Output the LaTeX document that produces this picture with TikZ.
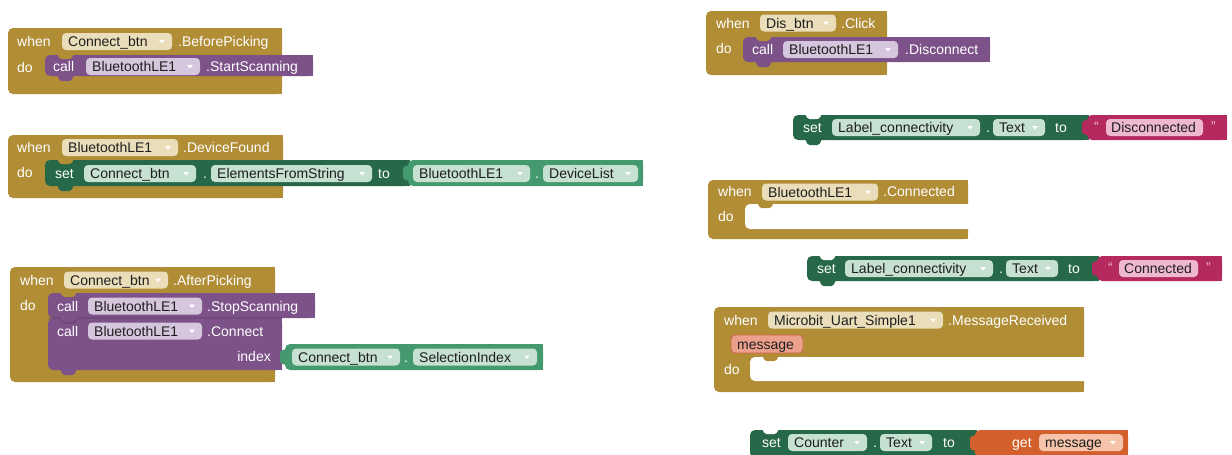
\documentclass[tikz,border=0pt]{standalone}
\usepackage{fontspec}
\setmainfont{Liberation Sans}
\definecolor{evtc}{RGB}{177,141,54}
\definecolor{evtf}{RGB}{234,222,186}
\definecolor{procc}{RGB}{124,82,136}
\definecolor{procf}{RGB}{214,198,221}
\definecolor{setc}{RGB}{38,104,72}
\definecolor{getc}{RGB}{68,153,110}
\definecolor{gfld}{RGB}{198,224,209}
\definecolor{txtc}{RGB}{180,42,94}
\definecolor{txtf}{RGB}{238,185,206}
\definecolor{orgc}{RGB}{211,95,44}
\definecolor{orgf}{RGB}{245,196,170}
\definecolor{parf}{RGB}{236,160,140}
\definecolor{pard}{RGB}{205,95,70}
\definecolor{fdtxt}{RGB}{30,30,30}
\tikzset{
  kw/.style={text=white, inner sep=0pt, anchor=west, text height=10pt, text depth=0pt, font=\fontsize{14}{16}\selectfont},
  ft/.style={text=fdtxt, inner sep=0pt, anchor=west, text height=10pt, text depth=0pt, font=\fontsize{14}{16}\selectfont},
}
% field with dropdown arrow: name, fill, x1, x2, yc, text
\newcommand\fld[6]{%
  \fill[#2, rounded corners=4pt] ({#3},{#5-8.5}) rectangle ({#4},{#5+8.5});
  \node[ft] (#1) at ({#3+6},{#5}) {#6};
  \fill[white] ({#4-13},{#5-1.5}) -- ({#4-7},{#5-1.5}) -- ({#4-10},{#5+2}) -- cycle;}
% field without arrow
\newcommand\fldn[6]{%
  \fill[#2, rounded corners=4pt] ({#3},{#5-8.5}) rectangle ({#4},{#5+8.5});
  \node[ft] (#1) at ({#3+5},{#5}) {#6};}
\newcommand\kw[4]{\node[kw] (#1) at (#2,#3) {#4};}
% block body: colour, x1, y1, x2, y2
\newcommand\body[5]{%
  \fill[#1, rounded corners=5pt] ({#2},{#3}) rectangle ({#4},{#5});
  \fill[#1] ({#4-7},{#3}) rectangle ({#4},{#5});}
% bottom tab: colour, x1, y2
\newcommand\btab[3]{%
  \fill[#1, rounded corners=1.5pt] ({#2+12},{#3-1}) -- ({#2+15},{#3+5}) -- ({#2+26},{#3+5}) -- ({#2+29},{#3-1}) -- cycle;}
% top notch: colour, x1, y1
\newcommand\tnotch[3]{%
  \fill[#1, rounded corners=1.5pt] ({#2+12},{#3-1}) -- ({#2+15},{#3+4}) -- ({#2+26},{#3+4}) -- ({#2+29},{#3-1}) -- cycle;}
% value tab: colour, x, yc
\newcommand\vtab[3]{%
  \fill[#1, rounded corners=1.5pt] ({#2+1},{#3-8}) -- ({#2-5},{#3-6}) -- ({#2-5},{#3+6}) -- ({#2+1},{#3+8}) -- cycle;}
\begin{document}
\begin{tikzpicture}[x=1pt,y=-1pt]
\useasboundingbox (0,0) rectangle (1232,455);
\clip (0,0) rectangle (1232,455);

% ===== Block A: when Connect_btn.BeforePicking
\body{evtc}{8}{28}{282}{94}
\body{procc}{45}{55}{313}{76}
\btab{procc}{45}{76}
\tnotch{evtc}{45}{55}
\kw{aWhen}{17}{41}{when}
\fld{aF1}{evtf}{62}{172}{41.5}{Connect\_btn}
\kw{aEv}{178}{41}{.BeforePicking}
\kw{aDo}{17}{67}{do}
\kw{aCall}{53}{66}{call}
\fld{aF2}{procf}{86}{200}{66.5}{BluetoothLE1}
\kw{aM}{206}{66}{.StartScanning}

% ===== Block B: when BluetoothLE1.DeviceFound
\body{evtc}{8}{135}{283}{198}
\body{setc}{45}{160}{410}{186}
\btab{setc}{45}{186}
\tnotch{evtc}{45}{160}
\body{getc}{408}{160}{643}{186}
\vtab{getc}{408}{173}
\kw{bWhen}{17}{147}{when}
\fld{bF1}{evtf}{62}{178}{147.5}{BluetoothLE1}
\kw{bEv}{183}{147}{.DeviceFound}
\kw{bDo}{17}{172}{do}
\kw{bSet}{55}{173}{set}
\fld{bF2}{gfld}{84}{196}{173.5}{Connect\_btn}
\kw{bDot1}{203}{173}{.}
\fld{bF3}{gfld}{211}{372}{173.5}{ElementsFromString}
\kw{bTo}{378}{173}{to}
\fld{bF4}{gfld}{413}{530}{173.5}{BluetoothLE1}
\kw{bDot2}{535}{173}{.}
\fld{bF5}{gfld}{543}{638}{173.5}{DeviceList}

% ===== Block C: when Connect_btn.AfterPicking
\body{evtc}{10}{267}{275}{382}
\body{procc}{48}{318}{282}{370}
\btab{procc}{48}{370}
\body{procc}{48}{293}{315}{318}
\tnotch{evtc}{48}{293}
\draw[procc!75!black, line width=0.6pt] (48.5,318) -- (60,318) -- (63,323) -- (74,323) -- (77,318) -- (282,318);
\body{getc}{285}{344}{543}{370}
\vtab{getc}{285}{357}
\kw{cWhen}{20}{280}{when}
\fld{cF1}{evtf}{64}{168}{280}{Connect\_btn}
\kw{cEv}{173}{280}{.AfterPicking}
\kw{cDo}{20}{305}{do}
\kw{cCall1}{57}{306}{call}
\fld{cF2}{procf}{88}{202}{306}{BluetoothLE1}
\kw{cM1}{207}{306}{.StopScanning}
\kw{cCall2}{57}{331}{call}
\fld{cF3}{procf}{88}{202}{331}{BluetoothLE1}
\kw{cM2}{207}{331}{.Connect}
\node[kw, anchor=east] (cIdx) at (271,356) {index};
\fld{cF4}{gfld}{292}{400}{357}{Connect\_btn}
\kw{cDot}{404}{357}{.}
\fld{cF5}{gfld}{413}{537}{357}{SelectionIndex}

% ===== Block D: when Dis_btn.Click
\body{evtc}{706}{11}{887}{75}
\body{procc}{743}{37}{990}{62}
\btab{procc}{743}{62}
\tnotch{evtc}{743}{37}
\kw{dWhen}{716}{23}{when}
\fld{dF1}{evtf}{760}{836}{23}{Dis\_btn}
\kw{dEv}{841}{23}{.Click}
\kw{dDo}{716}{48}{do}
\kw{dCall}{752}{49}{call}
\fld{dF2}{procf}{783}{898}{49.5}{BluetoothLE1}
\kw{dM}{905}{49}{.Disconnect}

% ===== Block E: set Label_connectivity.Text to "Disconnected"
\body{setc}{793}{115}{1089}{140}
\btab{setc}{793}{140}
\tnotch{white}{793}{115}
\body{txtc}{1087}{115}{1227}{140}
\vtab{txtc}{1087}{127.5}
\kw{eSet}{803}{127}{set}
\fld{eF1}{gfld}{832}{980}{127.5}{Label\_connectivity}
\kw{eDot}{986}{127}{.}
\fld{eF2}{gfld}{993}{1045}{127.5}{Text}
\kw{eTo}{1055}{127}{to}
\node[kw, text=txtf] (eQ1) at (1094,126) {“};
\fldn{eF3}{txtf}{1106}{1203}{127.5}{Disconnected}
\node[kw, text=txtf] (eQ2) at (1211,126) {”};

% ===== Block F: when BluetoothLE1.Connected
\body{evtc}{708}{180}{968}{239}
\fill[white, rounded corners=5pt] (745,204) rectangle (975,229);
\btab{evtc}{745}{203}
\kw{fWhen}{718}{191}{when}
\fld{fF1}{evtf}{762}{878}{192}{BluetoothLE1}
\kw{fEv}{883}{191}{.Connected}
\kw{fDo}{718}{216}{do}

% ===== Block G: set Label_connectivity.Text to "Connected"
\body{setc}{807}{256}{1099}{281}
\btab{setc}{807}{281}
\tnotch{white}{807}{256}
\body{txtc}{1097}{256}{1222}{281}
\vtab{txtc}{1097}{268.5}
\kw{gSet}{817}{268}{set}
\fld{gF1}{gfld}{845}{993}{268.5}{Label\_connectivity}
\kw{gDot}{999}{268}{.}
\fld{gF2}{gfld}{1006}{1058}{268.5}{Text}
\kw{gTo}{1068}{268}{to}
\node[kw, text=txtf] (gQ1) at (1108,267) {“};
\fldn{gF3}{txtf}{1119}{1198}{268.5}{Connected}
\node[kw, text=txtf] (gQ2) at (1206,267) {”};

% ===== Block H: when Microbit_Uart_Simple1.MessageReceived
\body{evtc}{714}{307}{1084}{392}
\fill[white, rounded corners=5pt] (750,357) rectangle (1090,381);
\btab{evtc}{750}{356}
\kw{hWhen}{724}{320}{when}
\fld{hF1}{evtf}{768}{943}{320}{Microbit\_Uart\_Simple1}
\kw{hEv}{948}{320}{.MessageReceived}
\filldraw[fill=parf, draw=pard, line width=0.8pt, rounded corners=4pt] (731,335) rectangle (803,353);
\node[ft] (hPar) at (737,344) {message};
\kw{hDo}{724}{369}{do}

% ===== Block I: set Counter.Text to get message
\body{setc}{750}{430}{977}{458}
\tnotch{white}{750}{430}
\body{orgc}{975}{430}{1128}{458}
\vtab{orgc}{975}{443}
\kw{iSet}{762}{442}{set}
\fld{iF1}{gfld}{788}{867}{442.5}{Counter}
\kw{iDot}{873}{442}{.}
\fld{iF2}{gfld}{880}{932}{442.5}{Text}
\kw{iTo}{943}{442}{to}
\kw{iGet}{1012}{442}{get}
\fld{iF3}{orgf}{1039}{1123}{442.5}{message}
\end{tikzpicture}
\end{document}
